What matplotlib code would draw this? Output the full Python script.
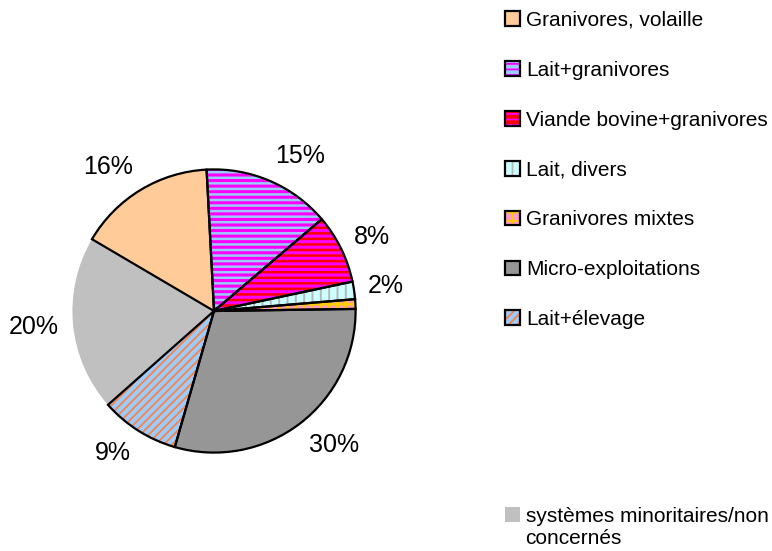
import matplotlib
matplotlib.use('Agg')
import numpy as np
import matplotlib.pyplot as plt
from matplotlib.patches import Patch
from matplotlib.legend_handler import HandlerTuple

plt.rcParams['font.family'] = ['Liberation Sans', 'DejaVu Sans']

# slices, clockwise from the top
categories = ['Lait+granivores', 'Viande bovine+granivores', 'Lait, divers',
              'Granivores mixtes', 'Micro-exploitations', 'Lait+élevage',
              'systèmes minoritaires/non concernés', 'Granivores, volaille']
values = [14.6, 7.9, 2.0, 1.1, 29.7, 9.0, 20.0, 15.7]

# style per slice: face colour, hatch, hatch colour, hatch width
faces = ['#99CCFF', '#FF0000', '#CCFFFF', '#FF99CC', '#969696', '#99CCFF', '#C0C0C0', '#FFCC99']
hatches = ['---', '---', '||', '++', '', '////', '', '']
hcolors = ['#FF00FF', '#FF00FF', '#B8B8B8', '#FFCC00', '#969696', '#FF8040', '#C0C0C0', '#FFCC99']
hwidths = [2.2, 2.2, 1.4, 2.0, 1.0, 1.3, 1.0, 1.0]
outlined = [True, True, True, True, True, True, False, True]

legend_order = ['Granivores, volaille', 'Lait+granivores', 'Viande bovine+granivores',
                'Lait, divers', 'Granivores mixtes', 'Micro-exploitations', 'Lait+élevage']

total = sum(values)
pct_labels = ['%.0f%%' % (v / total * 100) if v / total > 0.015 else '' for v in values]


def set_hatch(p, i):
    # hatch colour comes from the edge colour, so the black outline is drawn separately
    p.set_facecolor(faces[i])
    p.set_hatch(hatches[i])
    p.set_edgecolor(hcolors[i])
    p.set_linewidth(0)
    plt.rcParams['hatch.linewidth'] = hwidths[i]
    if hasattr(p, 'set_hatch_linewidth'):
        p.set_hatch_linewidth(hwidths[i])


fig = plt.figure(figsize=(7.72, 5.51), dpi=100)
cx, cy, r = 214, 311, 143
ax = fig.add_axes([(cx - r) / 772, (551 - cy - r) / 551, 2 * r / 772, 2 * r / 551])

wedges, texts = ax.pie(values, labels=pct_labels, startangle=93, counterclock=False,
                       textprops={'fontsize': 18})
for i, w in enumerate(wedges):
    set_hatch(w, i)

# excel-like label placement: text edge near the rim, nudged outward vertically
for w, t in zip(wedges, texts):
    a = np.deg2rad((w.theta1 + w.theta2) / 2)
    c, s = np.cos(a), np.sin(a)
    t.set_position((1.10 * c, 1.10 * s + 0.09 * s))
    t.set_ha('left' if c > 0 else 'right')
    t.set_va('center')

# black outlines on top
outl, _ = ax.pie(values, startangle=93, counterclock=False,
                 wedgeprops={'fill': False, 'linewidth': 1.6})
for w, o in zip(outl, outlined):
    w.set_edgecolor('black' if o else 'none')

ax.set_xlim(-1.01, 1.01)
ax.set_ylim(-1.01, 1.01)
ax.set_aspect('equal')

handles = []
for name in legend_order:
    i = categories.index(name)
    p1 = Patch()
    set_hatch(p1, i)
    p2 = Patch(fill=False, edgecolor='black', linewidth=1.6)
    handles.append((p1, p2))

leg = fig.legend(handles, legend_order, loc='upper left',
                 bbox_to_anchor=(505 / 772, 1 - 11 / 551), frameon=False,
                 fontsize=15, handlelength=0.7, handleheight=0.7,
                 handletextpad=0.3, labelspacing=1.48, borderpad=0, borderaxespad=0,
                 handler_map={tuple: HandlerTuple(ndivide=1, pad=0)})

i = categories.index('systèmes minoritaires/non concernés')
leg2 = fig.legend([Patch(facecolor=faces[i], edgecolor='none')], ['systèmes minoritaires/non'],
                  loc='upper left', bbox_to_anchor=(505 / 772, 1 - 507 / 551), frameon=False,
                  fontsize=15, handlelength=0.7, handleheight=0.7, handletextpad=0.3,
                  borderpad=0, borderaxespad=0)
fig.text(525 / 772, 1 - 538 / 551, 'concernés', fontsize=15, va='center', ha='left')

fig.savefig('out.png', dpi=100)
